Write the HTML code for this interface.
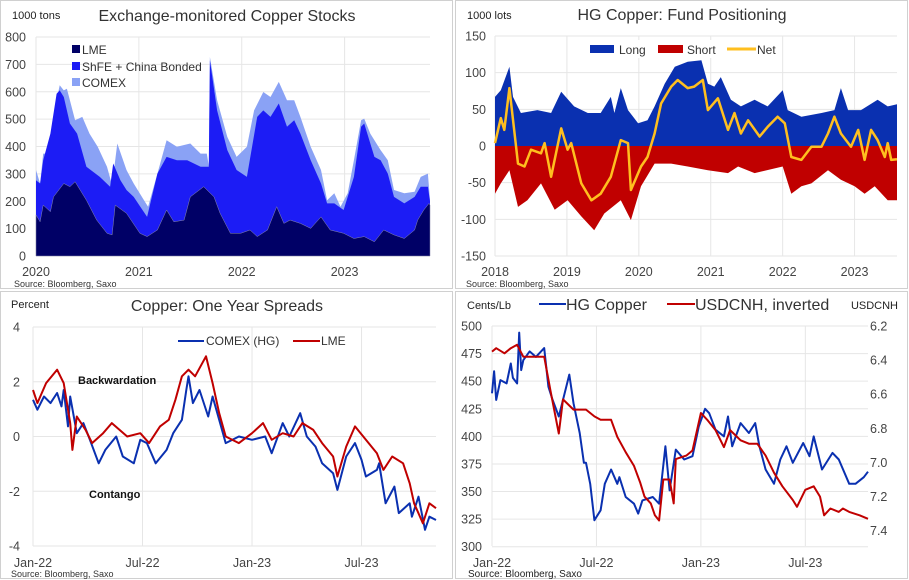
<!DOCTYPE html>
<html><head><meta charset="utf-8">
<style>
html,body{margin:0;padding:0;background:#fff;}
svg{display:block;font-family:"Liberation Sans",sans-serif;}
</style></head>
<body>
<svg id="c" width="909" height="580" viewBox="0 0 909 580">
<rect x="0" y="0" width="909" height="580" fill="#fff"/>
<rect x="0.5" y="0.5" width="452" height="288" fill="none" stroke="#d0d0d0"/>
<rect x="455.5" y="0.5" width="452" height="288" fill="none" stroke="#d0d0d0"/>
<rect x="0.5" y="291.5" width="452" height="287" fill="none" stroke="#d0d0d0"/>
<rect x="455.5" y="291.5" width="452" height="287" fill="none" stroke="#d0d0d0"/>
<g id="p1"></g><g id="p2"></g><g id="p3"></g><g id="p4"></g>

<!-- Panel 1 texts -->
<text x="12" y="19" font-size="11" fill="#222">1000  tons</text>
<text x="227" y="21" font-size="16" fill="#333" text-anchor="middle">Exchange-monitored Copper Stocks</text>
<text x="14" y="287" font-size="9" fill="#333">Source:  Bloomberg,  Saxo</text>
<g>
<rect x="72" y="45" width="8" height="8" fill="#000066"/>
<text x="82" y="54" font-size="12" fill="#333">LME</text>
<rect x="72" y="62" width="8" height="8" fill="#1c1cf5"/>
<text x="82" y="71" font-size="12" fill="#333">ShFE + China Bonded</text>
<rect x="72" y="78" width="8" height="8" fill="#8aa2f5"/>
<text x="82" y="87" font-size="12" fill="#333">COMEX</text>
</g>

<!-- Panel 2 texts -->
<text x="467" y="19" font-size="11" fill="#222">1000 lots</text>
<text x="682" y="20" font-size="16" fill="#333" text-anchor="middle">HG Copper: Fund Positioning</text>
<text x="466" y="287" font-size="9" fill="#333">Source:  Bloomberg,  Saxo</text>
<g>
<rect x="585" y="40" width="190" height="18" fill="#fff"/>
<rect x="590" y="45" width="24" height="8" fill="#0a30b0"/>
<text x="619" y="54" font-size="12" fill="#333">Long</text>
<rect x="658" y="45" width="25" height="8" fill="#c00000"/>
<text x="687" y="54" font-size="12" fill="#333">Short</text>
<line x1="727" y1="49" x2="756" y2="49" stroke="#ffbf1f" stroke-width="3"/>
<text x="757" y="54" font-size="12" fill="#333">Net</text>
</g>

<!-- Panel 3 texts -->
<text x="11" y="308" font-size="11" fill="#222">Percent</text>
<text x="227" y="311" font-size="16" fill="#333" text-anchor="middle">Copper: One Year Spreads</text>
<text x="11" y="577" font-size="9" fill="#333">Source:  Bloomberg,  Saxo</text>
<g>
<line x1="178" y1="341" x2="204" y2="341" stroke="#0a30b0" stroke-width="2"/>
<text x="206" y="345" font-size="12" fill="#333">COMEX (HG)</text>
<line x1="293" y1="341" x2="320" y2="341" stroke="#c00000" stroke-width="2"/>
<text x="321" y="345" font-size="12" fill="#333">LME</text>
</g>
<text x="78" y="384" font-size="11" font-weight="bold" fill="#111">Backwardation</text>
<text x="89" y="498" font-size="11" font-weight="bold" fill="#111">Contango</text>

<!-- Panel 4 texts -->
<text x="467" y="309" font-size="11" fill="#222">Cents/Lb</text>
<line x1="539" y1="304" x2="566" y2="304" stroke="#0a30b0" stroke-width="2"/>
<text x="566" y="310" font-size="16" fill="#333">HG Copper</text>
<line x1="667" y1="304" x2="695" y2="304" stroke="#c00000" stroke-width="2"/>
<text x="695" y="310" font-size="16" fill="#333">USDCNH, inverted</text>
<text x="898" y="309" font-size="11" fill="#222" text-anchor="end">USDCNH</text>
<text x="468" y="577" font-size="10" fill="#222">Source: Bloomberg, Saxo</text>
</svg>

<script>
// ---------- Panel 1 data: stocks (cumulative tops), years ----------
const stTotalX=[2020,2020.04,2020.07,2020.14,2020.2,2020.23,2020.27,2020.3,2020.33,2020.38,2020.45,2020.52,2020.6,2020.69,2020.74,2020.79,2020.88,2020.95,2021.05,2021.09,2021.18,2021.27,2021.37,2021.5,2021.6,2021.66,2021.68,2021.69,2021.76,2021.86,2021.95,2022.05,2022.12,2022.21,2022.28,2022.36,2022.44,2022.51,2022.57,2022.67,2022.77,2022.83,2022.9,2022.96,2023.03,2023.09,2023.16,2023.19,2023.25,2023.35,2023.42,2023.48,2023.58,2023.68,2023.74,2023.81,2023.83];
const stTotalV=[314,265,374,374,569,624,605,611,569,496,508,447,399,326,259,411,314,265,204,180,301,423,399,411,374,374,330,727,569,435,362,399,532,599,581,636,569,569,508,399,314,204,229,180,229,350,496,502,447,387,350,241,229,235,289,301,204];
const stShfeX=[2020,2020.04,2020.07,2020.14,2020.2,2020.23,2020.27,2020.33,2020.4,2020.49,2020.62,2020.72,2020.75,2020.82,2020.88,2020.95,2021.08,2021.18,2021.27,2021.37,2021.47,2021.6,2021.68,2021.69,2021.76,2021.86,2021.95,2022.05,2022.15,2022.21,2022.28,2022.36,2022.44,2022.51,2022.57,2022.67,2022.77,2022.83,2022.9,2022.99,2023.09,2023.16,2023.19,2023.29,2023.35,2023.42,2023.48,2023.58,2023.68,2023.74,2023.81,2023.83];
const stShfeV=[277,265,350,447,593,605,581,484,447,326,289,253,338,277,241,216,143,301,362,350,350,326,326,715,532,387,314,289,508,532,508,557,472,496,447,350,265,192,192,168,289,472,484,362,350,301,216,192,216,253,253,200];
const stLmeX=[2020,2020.04,2020.07,2020.14,2020.17,2020.27,2020.33,2020.38,2020.49,2020.59,2020.69,2020.74,2020.77,2020.88,2021.01,2021.08,2021.18,2021.27,2021.34,2021.44,2021.5,2021.63,2021.73,2021.79,2021.89,2021.99,2022.08,2022.15,2022.25,2022.34,2022.41,2022.47,2022.57,2022.67,2022.77,2022.86,2022.99,2023.09,2023.19,2023.29,2023.38,2023.48,2023.58,2023.68,2023.71,2023.77,2023.82,2023.83];
const stLmeV=[150,125,186,162,216,265,253,271,204,131,83,77,186,156,83,71,95,168,125,131,216,253,216,156,83,83,95,71,95,180,119,131,119,101,143,95,83,64,71,52,95,77,64,95,131,168,192,186];
const stYTicks=[0,100,200,300,400,500,600,700,800];
const stXTicks=["2020","2021","2022","2023"];

// ---------- Panel 2 data: fund positioning ----------
const fpLongX=[2018,2018.08,2018.2,2018.25,2018.36,2018.59,2018.78,2018.92,2019.1,2019.29,2019.47,2019.61,2019.66,2019.75,2019.85,2019.99,2020.12,2020.22,2020.36,2020.5,2020.68,2020.87,2020.96,2021.05,2021.14,2021.28,2021.42,2021.61,2021.79,2022,2022.07,2022.26,2022.54,2022.72,2022.81,2022.91,2023.09,2023.32,2023.46,2023.59];
const fpLongV=[67,76,108,67,45,49,45,74,54,45,45,67,45,79,49,31,35,54,85,108,115,117,85,81,94,63,54,63,54,76,49,40,45,49,79,49,49,63,54,57];
const fpShortX=[2018,2018.08,2018.2,2018.32,2018.45,2018.64,2018.83,2019.01,2019.2,2019.38,2019.52,2019.75,2019.89,2020.03,2020.22,2020.45,2020.68,2020.96,2021.24,2021.38,2021.61,2022,2022.12,2022.26,2022.4,2022.63,2022.81,2023,2023.14,2023.28,2023.46,2023.59];
const fpShortV=[-65,-51,-33,-83,-74,-51,-87,-74,-96,-115,-92,-74,-101,-55,-24,-24,-28,-33,-37,-28,-37,-28,-65,-55,-51,-33,-46,-55,-65,-55,-74,-74];
const fpNetX=[2018,2018.08,2018.13,2018.2,2018.32,2018.41,2018.5,2018.64,2018.69,2018.78,2018.92,2019.01,2019.06,2019.2,2019.34,2019.47,2019.61,2019.75,2019.85,2019.89,2020.03,2020.12,2020.22,2020.31,2020.45,2020.54,2020.68,2020.77,2020.89,2020.96,2021.1,2021.24,2021.33,2021.42,2021.52,2021.68,2021.79,2021.93,2022.03,2022.12,2022.26,2022.4,2022.54,2022.63,2022.72,2022.81,2022.95,2023.05,2023.14,2023.23,2023.32,2023.42,2023.46,2023.51,2023.59];
const fpNetV=[4,38,22,79,-24,-28,-5,-10,4,-42,24,-5,4,-51,-74,-65,-42,8,4,-60,-28,-15,17,58,81,90,79,81,90,49,65,22,45,17,35,13,26,40,31,-15,-19,-1,-1,17,40,17,-1,22,-19,22,8,-15,4,-19,-18];
const fpYTicks=[-150,-100,-50,0,50,100,150];
const fpXTicks=["2018","2019","2020","2021","2022","2023"];

// ---------- Panel 3 data: one-year spreads (years since Jan-22) ----------
const spComexX=[0,.02,.05,.08,.11,.13,.14,.16,.17,.2,.23,.26,.3,.33,.38,.41,.46,.49,.52,.56,.61,.64,.68,.7,.71,.73,.76,.8,.82,.85,.88,.94,1.0,1.06,1.09,1.14,1.17,1.22,1.25,1.29,1.32,1.37,1.39,1.43,1.47,1.5,1.52,1.57,1.58,1.61,1.65,1.67,1.72,1.73,1.76,1.79,1.81,1.84];
const spComexV=[1.34,0.98,1.46,1.22,1.59,1.1,1.7,0.37,1.46,0.12,0.49,-0.12,-0.98,-0.49,0,-0.73,-0.98,-0.12,-0.24,-0.98,-0.49,0.12,0.61,1.7,2.2,1.22,1.7,0.73,1.46,0.61,-0.24,0,-0.12,0,-0.61,0.49,0,0.85,0,-0.37,-0.98,-1.34,-1.95,-0.73,-0.24,-0.85,-1.46,-1.22,-0.98,-2.44,-1.83,-2.8,-2.44,-2.93,-2.2,-3.41,-2.93,-3.05];
const spLmeX=[0,.02,.06,.11,.14,.17,.18,.2,.24,.27,.32,.36,.43,.49,.53,.58,.62,.65,.68,.71,.74,.79,.82,.85,.88,.94,1.0,1.05,1.09,1.14,1.19,1.23,1.28,1.32,1.37,1.39,1.43,1.47,1.52,1.57,1.6,1.64,1.69,1.72,1.74,1.78,1.81,1.84];
const spLmeV=[1.7,1.22,1.95,2.44,1.95,0.49,-0.49,0.73,0.24,-0.24,0.12,0.49,0,0.12,-0.24,0.37,0.61,1.34,2.2,2.44,2.2,2.93,1.95,0.85,0,-0.24,0.12,0.49,-0.12,0.12,0,0.49,0.24,-0.24,-0.73,-1.46,-0.37,0.37,-0.12,-0.61,-1.22,-0.73,-0.98,-1.71,-2.44,-3.17,-2.44,-2.62];
const spYTicks=[-4,-2,0,2,4];
const spXTicks=["Jan-22","Jul-22","Jan-23","Jul-23"];

// ---------- Panel 4 data: HG copper vs USDCNH ----------
const hgX=[0,.01,.02,.04,.07,.09,.1,.12,.13,.14,.15,.18,.21,.25,.27,.29,.32,.34,.37,.39,.42,.44,.45,.47,.49,.52,.54,.57,.6,.61,.64,.68,.7,.72,.77,.8,.83,.85,.88,.92,.96,.99,1.02,1.04,1.07,1.11,1.13,1.15,1.19,1.23,1.26,1.28,1.31,1.35,1.38,1.41,1.44,1.49,1.52,1.54,1.58,1.63,1.66,1.71,1.74,1.78,1.8];
const hgV=[439,459,433,451,448,466,453,448,494,460,469,477,472,480,445,433,418,433,456,430,403,376,376,357,324,333,357,370,357,363,345,339,330,342,345,339,391,351,388,379,382,409,425,421,406,400,418,391,412,403,412,391,370,357,379,391,376,394,382,400,370,385,379,357,357,363,368];
const cnhX=[0,.02,.06,.09,.12,.15,.2,.25,.28,.32,.34,.39,.42,.45,.49,.52,.57,.6,.64,.68,.71,.73,.76,.78,.8,.82,.85,.87,.88,.93,.96,1.0,1.03,1.07,1.11,1.14,1.19,1.23,1.27,1.31,1.35,1.39,1.44,1.46,1.5,1.54,1.57,1.59,1.62,1.66,1.68,1.71,1.76,1.8];
const cnhV=[6.35,6.33,6.36,6.33,6.31,6.38,6.38,6.38,6.58,6.83,6.63,6.69,6.69,6.69,6.73,6.75,6.75,6.85,6.94,7.02,7.12,7.2,7.24,7.31,7.34,7.1,7.1,7.24,6.98,6.96,6.93,6.71,6.75,6.81,6.91,6.81,6.87,6.89,6.89,6.96,7.06,7.14,7.22,7.26,7.16,7.14,7.2,7.31,7.27,7.29,7.27,7.29,7.31,7.33];
const hgYTicks=[300,325,350,375,400,425,450,475,500];
const cnhYTicks=[6.2,6.4,6.6,6.8,7.0,7.2,7.4];
const hgXTicks=["Jan-22","Jul-22","Jan-23","Jul-23"];

const NS="http://www.w3.org/2000/svg";
function mk(parent,tag,attrs){const e=document.createElementNS(NS,tag);for(const k in attrs)e.setAttribute(k,attrs[k]);parent.appendChild(e);return e;}
function lin(d0,d1,r0,r1){return v=>r0+(v-d0)/(d1-d0)*(r1-r0);}
function linePath(xs,vs,sx,sy){return xs.map((x,i)=>(i?'L':'M')+sx(x).toFixed(1)+','+sy(vs[i]).toFixed(1)).join('');}
function areaPath(xs,vs,sx,sy,base){return linePath(xs,vs,sx,sy)+'L'+sx(xs[xs.length-1]).toFixed(1)+','+sy(base).toFixed(1)+'L'+sx(xs[0]).toFixed(1)+','+sy(base).toFixed(1)+'Z';}

function grid(g,x0,x1,y0,y1,yTicks,sy,xTickPos,name){
  yTicks.forEach(t=>{const l=mk(g,'line',{x1:x0,x2:x1,y1:sy(t),y2:sy(t),stroke:'#e6e6e6','stroke-width':1});
    
    });
  xTickPos.forEach(p=>{const l=mk(g,'line',{x1:p,x2:p,y1:y0,y2:y1,stroke:'#e6e6e6','stroke-width':1});
    
    });
}
function yLabels(g,ticks,sy,x,anchor,fmt,name){
  ticks.forEach(t=>{const e=mk(g,'text',{x:x,y:sy(t)+4.5,'font-size':12.5,fill:'#444','text-anchor':anchor});e.textContent=fmt(t);
    
    });
}
function xLabels(g,labels,pos,y,name){
  labels.forEach((t,i)=>{const e=mk(g,'text',{x:pos[i],y:y,'font-size':12.5,fill:'#444','text-anchor':'middle'});e.textContent=t;
    
    });
}
function addPath(g,d,fill,stroke,sw,name){const p=mk(g,'path',{d:d,fill:fill,stroke:stroke,'stroke-width':sw,'stroke-linejoin':'round'});
  
  return p;}

// Panel 1
(function(){
  const g=document.getElementById('p1');
  const x0=36,x1=430,sx=lin(2020,2023.83,36,430),sy=lin(0,800,256,37);
  const xp=stXTicks.map(t=>sx(+t));
  grid(g,x0,x1,37,256,stYTicks,sy,xp,'stocks');
  addPath(g,areaPath(stTotalX,stTotalV,sx,sy,0),'#8aa2f5','none',0,'comex-stock-area');
  addPath(g,areaPath(stShfeX,stShfeV,sx,sy,0),'#1c1cf5','none',0,'shfe-stock-area');
  addPath(g,areaPath(stLmeX,stLmeV,sx,sy,0),'#000066','#8888aa',0.5,'lme-stock-area');
  yLabels(g,stYTicks,sy,26,'end',t=>t,'stocks-y');
  xLabels(g,stXTicks,xp,276,'stocks-x');
})();

// Panel 2
(function(){
  const g=document.getElementById('p2');
  const sx=lin(2018,2023.59,495,897),sy=lin(-150,150,256,36);
  const xp=fpXTicks.map(t=>sx(+t));
  grid(g,495,897,36,256,fpYTicks,sy,xp,'positioning');
  addPath(g,areaPath(fpLongX,fpLongV,sx,sy,0),'#0a30b0','none',0,'long-area');
  addPath(g,areaPath(fpShortX,fpShortV,sx,sy,0),'#c00000','none',0,'short-area');
  addPath(g,linePath(fpNetX,fpNetV,sx,sy),'none','#ffbf1f',2.5,'net-line');
  yLabels(g,fpYTicks,sy,486,'end',t=>t,'positioning-y');
  xLabels(g,fpXTicks,xp,276,'positioning-x');
})();

// Panel 3
(function(){
  const g=document.getElementById('p3');
  const sx=lin(0,1.84,33,436),sy=lin(-4,4,546,327);
  const xp=[0,0.5,1,1.5].map(v=>sx(v));
  grid(g,33,436,327,546,spYTicks,sy,xp,'spreads');
  addPath(g,linePath(spComexX,spComexV,sx,sy),'none','#0a30b0',2,'comex-spread-line');
  addPath(g,linePath(spLmeX,spLmeV,sx,sy),'none','#c00000',2,'lme-spread-line');
  yLabels(g,spYTicks,sy,20,'end',t=>t,'spreads-y');
  xLabels(g,spXTicks,xp,567,'spreads-x');
})();

// Panel 4
(function(){
  const g=document.getElementById('p4');
  const sx=lin(0,1.8,492,868),sy=lin(300,500,546.7,326),sr=lin(6.2,7.4,326,530.7);
  const xp=[0,0.5,1,1.5].map(v=>sx(v));
  grid(g,492,868,326,546,hgYTicks,sy,xp,'hg');
  addPath(g,linePath(hgX,hgV,sx,sy),'none','#0a30b0',2,'hg-copper-line');
  addPath(g,linePath(cnhX,cnhV,sx,sr),'none','#c00000',2,'usdcnh-line');
  yLabels(g,hgYTicks,sy,482,'end',t=>t,'hg-left-y');
  yLabels(g,cnhYTicks,sr,870,'start',t=>t.toFixed(1),'usdcnh-right-y');
  xLabels(g,hgXTicks,xp,567,'hg-x');
})();
</script>
</body></html>
